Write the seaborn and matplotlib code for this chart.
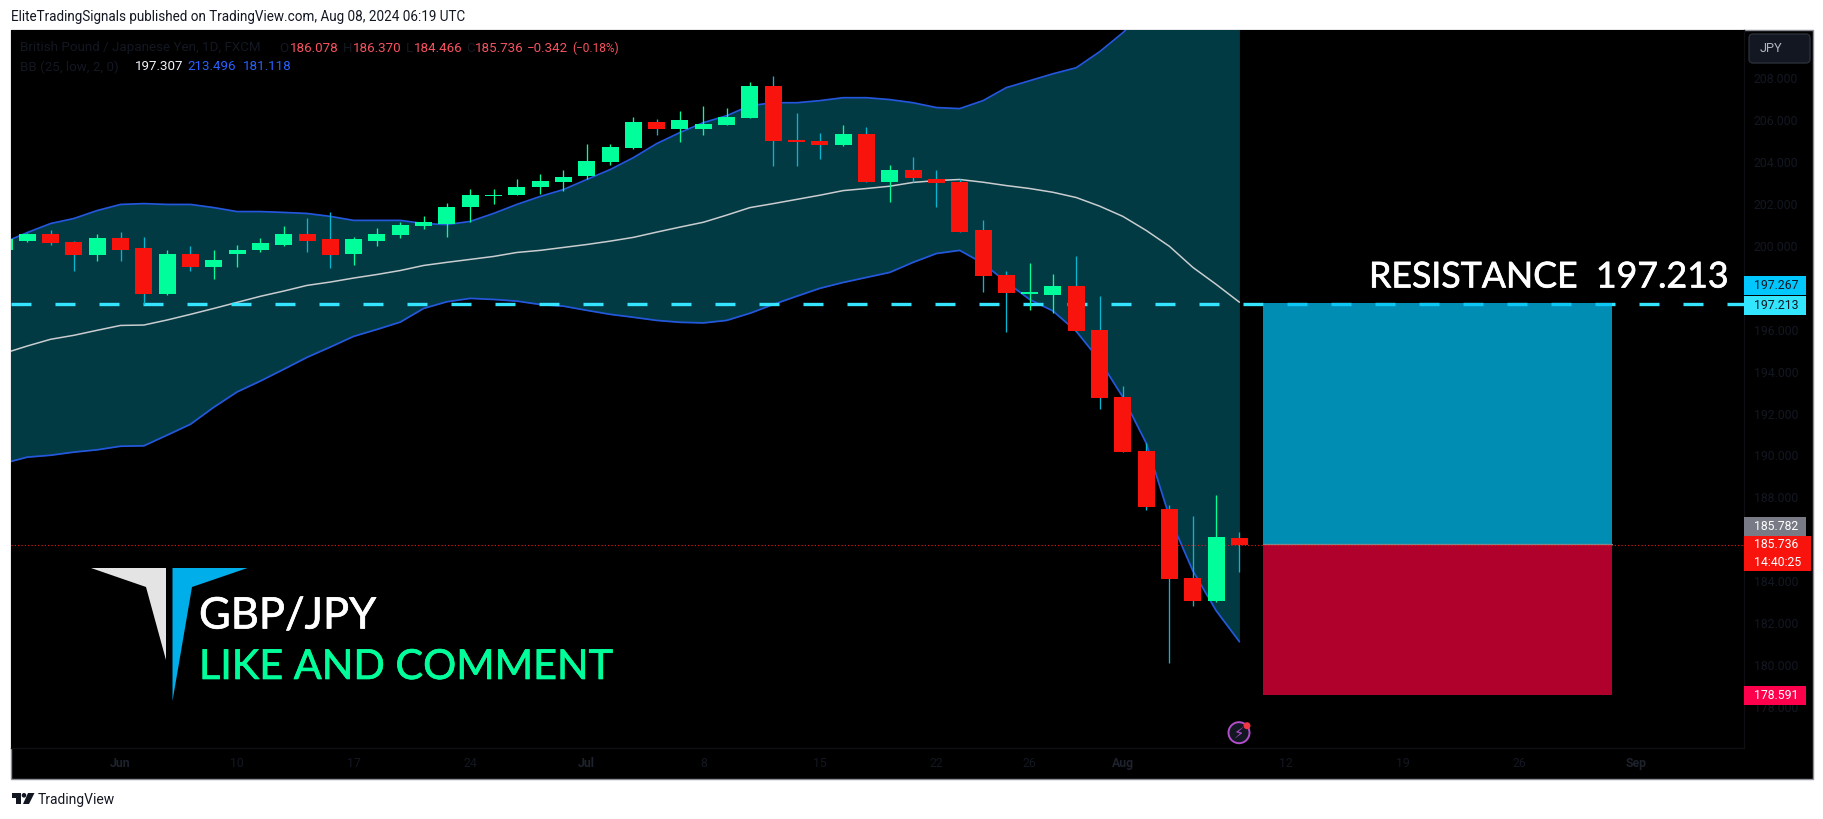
import numpy as np
import pandas as pd
import matplotlib
matplotlib.use("Agg")
import matplotlib.pyplot as plt
import matplotlib.patheffects as pe
from matplotlib.transforms import IdentityTransform
import seaborn as sns
from matplotlib.patches import Rectangle, Polygon, Circle, FancyBboxPatch

# === Data ===
opens = [199.78, 200.25, 200.54, 200.16, 199.54, 200.39, 199.87, 197.68, 199.59, 198.97,
         199.63, 199.78, 200.06, 200.54, 200.30, 199.63, 200.25, 200.49, 200.92, 201.06,
         201.87, 202.35, 202.40, 202.78, 203.06, 203.35, 204.01, 204.68, 205.92, 205.59,
         205.59, 205.78, 206.11, 207.63, 205.06, 205.01, 204.82, 205.35, 203.02, 203.59,
         203.16, 203.02, 200.73, 198.59, 197.70, 197.63, 198.06, 195.97, 192.78, 190.21,
         187.44, 184.16, 183.06, 186.078]
highs = [200.39, 200.63, 200.73, 200.25, 200.54, 200.68, 200.44, 199.78, 199.97, 199.82,
         200.06, 200.39, 200.92, 201.30, 201.63, 200.44, 200.87, 201.11, 201.40, 202.06,
         202.73, 202.73, 203.16, 203.40, 203.59, 204.87, 204.87, 206.16, 206.06, 206.44,
         206.68, 206.59, 207.82, 208.11, 206.35, 205.40, 205.78, 205.68, 203.87, 204.25,
         203.63, 203.16, 201.21, 198.82, 199.16, 198.64, 199.49, 197.59, 193.30, 190.59,
         187.63, 187.11, 188.11, 186.370]
lows = [199.68, 200.16, 200.06, 198.78, 199.25, 199.25, 197.20, 197.63, 198.82, 198.40,
        198.97, 199.68, 199.97, 199.68, 198.92, 199.06, 200.01, 200.39, 200.78, 200.44,
        201.11, 201.97, 202.40, 202.49, 202.63, 203.16, 203.87, 204.63, 205.30, 204.97,
        205.30, 205.78, 206.11, 203.82, 203.82, 204.16, 204.78, 203.02, 202.11, 203.02,
        201.87, 200.68, 197.78, 195.87, 196.92, 196.78, 195.92, 192.21, 190.16, 187.40,
        180.11, 182.82, 183.02, 184.466]
closes = [200.30, 200.54, 200.11, 199.54, 200.35, 199.82, 197.68, 199.59, 198.97, 199.30,
          199.82, 200.11, 200.54, 200.25, 199.54, 200.30, 200.54, 200.97, 201.11, 201.87,
          202.40, 202.44, 202.82, 203.11, 203.30, 204.06, 204.73, 205.92, 205.59, 206.01,
          205.82, 206.16, 207.63, 205.01, 204.97, 204.82, 205.35, 203.02, 203.59, 203.21,
          202.97, 200.68, 198.54, 197.73, 197.78, 198.06, 195.92, 192.73, 190.16, 187.54,
          184.11, 183.06, 186.11, 185.736]
bb_upper = [200.16, 200.63, 201.06, 201.30, 201.68, 201.97, 202.01, 201.97, 201.97, 201.82,
            201.63, 201.63, 201.59, 201.54, 201.40, 201.21, 201.21, 201.21, 201.06, 201.01,
            201.16, 201.54, 201.97, 202.35, 202.68, 203.16, 203.63, 204.20, 204.87, 205.40,
            205.87, 206.20, 206.68, 206.82, 206.82, 206.92, 207.06, 207.06, 206.97, 206.82,
            206.59, 206.54, 206.92, 207.54, 207.87, 208.20, 208.49, 209.25, 210.16, 211.25,
            212.21, 212.78, 213.16, 213.496]
bb_basis = [194.87, 195.22, 195.54, 195.73, 195.97, 196.20, 196.22, 196.46, 196.73, 197.01,
            197.30, 197.59, 197.84, 198.11, 198.27, 198.46, 198.63, 198.82, 199.06, 199.21,
            199.35, 199.49, 199.68, 199.78, 199.92, 200.06, 200.22, 200.40, 200.65, 200.89,
            201.12, 201.46, 201.82, 202.01, 202.21, 202.41, 202.63, 202.73, 202.84, 203.02,
            203.11, 203.16, 203.03, 202.87, 202.73, 202.55, 202.30, 201.89, 201.40, 200.73,
            199.97, 198.97, 198.16, 197.307]
bb_lower = [189.63, 189.92, 190.01, 190.16, 190.27, 190.44, 190.46, 190.97, 191.49, 192.30,
            193.03, 193.55, 194.11, 194.68, 195.17, 195.68, 196.01, 196.36, 197.01, 197.33,
            197.49, 197.44, 197.36, 197.20, 197.12, 196.92, 196.73, 196.59, 196.44, 196.35,
            196.32, 196.44, 196.78, 197.20, 197.59, 197.97, 198.25, 198.49, 198.73, 199.21,
            199.63, 199.78, 199.16, 198.27, 197.44, 196.89, 195.92, 194.54, 192.78, 190.59,
            187.06, 184.50, 182.60, 181.118]

price_ticks = [208, 206, 204, 202, 200, 196, 194, 192, 190, 188, 184, 182, 180, 178]
date_ticks = [5, 10, 15, 20, 25, 30, 35, 40, 44, 48, 55, 60, 65, 70]
date_labels = ["Jun", "10", "17", "24", "Jul", "8", "15", "22", "26", "Aug", "12", "19", "26", "Sep"]

resistance = 197.213
last_price = 185.736
box_top = 197.267
box_mid = 185.782
box_bottom = 178.591
box_start, box_end = 54, 69

GREEN = "#00FF9A"
RED = "#F8130D"
WICK_RED = "#07B6D0"
BAND = "#2458DC"
DARK = "#131722"

W, H = 1824, 819

sns.set_theme(style="dark", rc={"axes.facecolor": "black", "figure.facecolor": "white"})
plt.rcParams["font.family"] = ["Roboto", "DejaVu Sans"]

df = pd.DataFrame({"bar": np.arange(len(opens)), "open": opens, "high": highs, "low": lows,
                   "close": closes, "upper": bb_upper, "basis": bb_basis, "lower": bb_lower})
df["up"] = df["close"] >= df["open"]

fig = plt.figure(figsize=(W / 100, H / 100), dpi=100)
PX = IdentityTransform()


# pixel positions from the top left of the picture, for the parts around the plot
def fx(x):
    return x / W


def fy(y):
    return 1 - y / H


def ftext(x, y, s, **kw):
    kw.setdefault("va", "center")
    kw.setdefault("ha", "left")
    return fig.text(fx(x), fy(y), s, **kw)


def fpoly(points, color, zorder=2):
    fig.add_artist(Polygon([(x, H - y) for x, y in points], closed=True, transform=PX,
                           facecolor=color, lw=0, zorder=zorder))


def fcircle(x, y, r, zorder=2, **kw):
    fig.add_artist(Circle((x, H - y), r, transform=PX, zorder=zorder, **kw))


# outer frame of the chart
fig.add_artist(Rectangle((11, H - 779), 1801.5, 749, transform=PX, facecolor="black",
                         edgecolor="#8b8e97", lw=1, zorder=-1))

ax = fig.add_axes([fx(11.5), fy(748), (1744 - 11.5) / W, (748 - 30) / H])
ax.set_facecolor("black")

# === Bollinger bands ===
ax.fill_between(df["bar"], df["lower"], df["upper"], color="#023A43", lw=0, zorder=1)
sns.lineplot(data=df, x="bar", y="upper", color=BAND, lw=1.25, ax=ax, zorder=2)
sns.lineplot(data=df, x="bar", y="lower", color=BAND, lw=1.25, ax=ax, zorder=2)
sns.lineplot(data=df, x="bar", y="basis", color="#C9CDD0", lw=1.1, ax=ax, zorder=2)

# === Long / short boxes ===
ax.add_patch(Rectangle((box_start, box_mid), box_end - box_start, box_top - box_mid,
                       facecolor="#01BEF1", alpha=0.75, lw=0, zorder=4))
ax.add_patch(Rectangle((box_start, box_bottom), box_end - box_start, box_mid - box_bottom,
                       facecolor="#ED003C", alpha=0.75, lw=0, zorder=4))
ax.plot([box_start, box_end], [box_mid, box_mid], color="#80868C", lw=0.9, zorder=4.1)

# === Resistance and last price lines ===
lw = 2.4
ax.axhline(resistance, color="#35E4FF", lw=lw, ls=(0, (20 * 0.72 / lw, 24 * 0.72 / lw)), zorder=3)
ax.axhline(last_price, color=RED, lw=0.8, ls=(0, (1, 2)), zorder=4.2)

# === Candles ===
colors = [GREEN if u else RED for u in df["up"]]
wick_colors = [GREEN if u else WICK_RED for u in df["up"]]
ax.vlines(df["bar"], df["low"], df["high"], colors=wick_colors, lw=0.95, zorder=5)
body_low = df[["open", "close"]].min(axis=1)
body_high = df[["open", "close"]].max(axis=1)
ax.bar(df["bar"], np.maximum(body_high - body_low, 0.07), bottom=body_low, width=0.73,
       color=colors, lw=0, zorder=6)

# === Axes ===
ax.set_xlim((11.5 - 4) / 23.31, (1744 - 4) / 23.31)
ax.set_ylim(208 - (748 - 78) / 20.97, 208 + (78 - 30) / 20.97)
ax.set_xlabel("")
ax.set_ylabel("")
ax.yaxis.tick_right()
ax.set_yticks(price_ticks)
ax.set_yticklabels([f"{p:.3f}" for p in price_ticks])
ax.set_xticks(date_ticks)
ax.set_xticklabels(date_labels)
ax.tick_params(axis="y", length=0, pad=7.2, labelsize=8.8, labelcolor=DARK, labelright=True)
ax.tick_params(axis="x", length=0, pad=6.5, labelsize=8.8, labelcolor=DARK)
for t in ax.get_xticklabels():
    if t.get_text() in ("Jun", "Jul", "Aug", "Sep"):
        t.set_color("#1E222D")
        t.set_fontweight("bold")
ax.grid(False)
for name, spine in ax.spines.items():
    spine.set_visible(name in ("right", "bottom"))
    spine.set_color("#0D0F13")
    spine.set_linewidth(1)

# === Header / footer ===
ftext(11.5, 17, "EliteTradingSignals published on TradingView.com, Aug 08, 2024 06:19 UTC",
      fontsize=9.75, color=DARK)
ftext(38, 800, "TradingView", fontsize=10, color=DARK)
# TradingView mark
fpoly([(11.5, 793), (21, 793), (21, 804), (16, 804), (16, 798), (11.5, 798)], DARK)
fcircle(24, 795.3, 2.3, facecolor=DARK, lw=0)
fpoly([(28, 793), (34.5, 793), (29, 804), (23, 804)], DARK)

# === Legend row ===
row1, row2 = 48, 67
ftext(20, row1, "British Pound / Japanese Yen, 1D, FXCM", fontsize=9.6, color=DARK)
ftext(279, row1, "O", fontsize=9.6, color=DARK)
ftext(342.5, row1, "H", fontsize=9.6, color=DARK)
ftext(405.5, row1, "L", fontsize=9.6, color=DARK)
ftext(466.5, row1, "C", fontsize=9.6, color=DARK)
for x, s in [(290, "186.078"), (353, "186.370"), (414, "184.466"), (475, "185.736"), (527, "\u22120.342")]:
    ftext(x, row1, s, fontsize=9.6, color="#F7525F")
ftext(572, row1, "(\u22120.18%)", fontsize=8.6, color="#F7525F")
ftext(20, row2, "BB (25, low, 2, 0)", fontsize=9.6, color=DARK)
ftext(135, row2, "197.307", fontsize=9.6, color="#F0F3FA")
ftext(187, row2, "213.496", fontsize=9.6, color="#2962FF")
ftext(243, row2, "181.118", fontsize=9.6, color="#2962FF")

# === Drawn text on the chart ===
overlay_font = ["Lato", "DejaVu Sans"]
thick = [pe.withStroke(linewidth=0.5, foreground="white")]
thick_green = [pe.withStroke(linewidth=0.5, foreground=GREEN)]
ftext(1369, 277, "RESISTANCE  197.213", fontsize=25.7, color="white", family=overlay_font, path_effects=thick)
ftext(199, 616.5, "GBP/JPY", fontsize=31.3, color="white", family=overlay_font, path_effects=thick)
ftext(199, 667.5, "LIKE AND COMMENT", fontsize=29.8, color=GREEN, family=overlay_font, path_effects=thick_green)

# logo
fpoly([(91, 568), (166, 568), (166, 660), (146, 587)], "#E4E4E4")
fpoly([(172.5, 568), (247.5, 568), (192, 587), (172.5, 701)], "#00AEEA")

# === Price axis labels ===
fig.add_artist(FancyBboxPatch((1749, H - 63), 61, 29, transform=PX, boxstyle="round,pad=0,rounding_size=4",
                              facecolor=DARK, edgecolor="#2A2E39", lw=1))
ftext(1760, 49, "JPY", fontsize=9.2, color="#B2B5BE")


def price_tag(y0, y1, x1, color, lines, text_color):
    fig.add_artist(Rectangle((1744, H - y1), x1 - 1744, y1 - y0, transform=PX, facecolor=color, lw=0, zorder=5))
    step = (y1 - y0) / len(lines)
    for k, s in enumerate(lines):
        t = ftext(1754, y0 + step * (k + 0.5), s, fontsize=8.8, color=text_color)
        t.set_zorder(6)


price_tag(276, 295, 1806, "#00C8FF", ["197.267"], DARK)
price_tag(295.5, 315, 1806, "#33E6FF", ["197.213"], DARK)
price_tag(517, 536, 1806, "#787B86", ["185.782"], "white")
price_tag(536, 571, 1811, RED, ["185.736", "14:40:25"], "white")
price_tag(686, 705, 1806, "#FF004C", ["178.591"], "white")

# === Flash icon under the last candle ===
fcircle(1239, 732.7, 10.5, zorder=5, facecolor=DARK, edgecolor="#B04FC8", lw=1.4)
ftext(1239, 733, "\u26A1", fontsize=10.5, color="#B04FC8", ha="center", family="DejaVu Sans", zorder=6)
fcircle(1247, 725.7, 3.5, zorder=6, facecolor="#F23645", lw=0)

fig.savefig("out.png", dpi=100)
